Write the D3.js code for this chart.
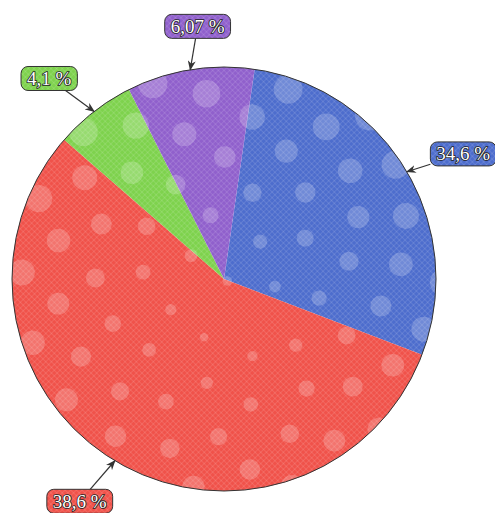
<!DOCTYPE html>
<html>
<head>
<meta charset="utf-8">
<script src="https://cdn.jsdelivr.net/npm/d3@7"></script>
<style>
  html, body { margin: 0; padding: 0; background: #fff; }
  svg { display: block; }
</style>
</head>
<body>
<svg></svg>
<script>
// slice sizes (share of the full circle, %)
var shares = [28.5, 55.6, 6.2, 9.7];
// the labels printed next to each slice
var labels = ["34,6 %", "38,6 %", "4,1 %", "6,07 %"];
var colors = ["#4d6dcd", "#f0524a", "#7ed24d", "#9060cc"];

var width = 495, height = 513;
var cx = 224, cy = 279, radius = 212;
var startDeg = 8.3;

// label placement: angle shift from slice middle (deg) and distance from centre
var labelShift = [2.8, 2, -3.3, 3.2];
var labelDist = [270, 265, 266, 254];

var svg = d3.select("svg")
    .attr("width", width)
    .attr("height", height);

var defs = svg.append("defs");

// cross-hatch texture, one per colour
colors.forEach(function(c, i) {
  var p = defs.append("pattern")
      .attr("id", "tex" + i)
      .attr("patternUnits", "userSpaceOnUse")
      .attr("width", 4).attr("height", 4)
      .attr("patternTransform", "rotate(45)");
  p.append("rect").attr("width", 4).attr("height", 4).attr("fill", c);
  p.append("line").attr("x1", 0).attr("y1", 0).attr("x2", 4).attr("y2", 0)
      .attr("stroke", "#fff").attr("stroke-opacity", 0.22).attr("stroke-width", 1);
  p.append("line").attr("x1", 0).attr("y1", 0).attr("x2", 0).attr("y2", 4)
      .attr("stroke", "#fff").attr("stroke-opacity", 0.22).attr("stroke-width", 1);
});

defs.append("clipPath").attr("id", "pieclip")
  .append("circle").attr("cx", cx).attr("cy", cy).attr("r", radius);

defs.append("marker")
    .attr("id", "arrow")
    .attr("viewBox", "0 0 10 8")
    .attr("refX", 9).attr("refY", 4)
    .attr("markerWidth", 10).attr("markerHeight", 8)
    .attr("markerUnits", "userSpaceOnUse")
    .attr("orient", "auto")
  .append("path")
    .attr("d", "M0,0 L10,4 L0,8 L3,4 Z")
    .attr("fill", "#333");

var pie = d3.pie()
    .sort(null)
    .value(function(d) { return d; })
    .startAngle(startDeg * Math.PI / 180)
    .endAngle(startDeg * Math.PI / 180 + 2 * Math.PI);

var arcs = pie(shares);

var arc = d3.arc().innerRadius(0).outerRadius(radius);

var g = svg.append("g").attr("transform", "translate(" + cx + "," + cy + ")");

g.selectAll("path.slice")
  .data(arcs)
  .join("path")
    .attr("class", "slice")
    .attr("d", arc)
    .attr("fill", function(d, i) { return "url(#tex" + i + ")"; });

// decorative bubbles (sunflower arrangement), clipped to the disc
var bub = svg.append("g").attr("clip-path", "url(#pieclip)");
var golden = Math.PI * (3 - Math.sqrt(5));
var bx = cx, by = cy + 40;
for (var i = 1; i < 90; i++) {
  var rr = 27 * Math.sqrt(i);
  var a = i * golden;
  bub.append("circle")
      .attr("cx", bx + rr * Math.cos(a))
      .attr("cy", by + rr * Math.sin(a))
      .attr("r", 3 + 11 * Math.min(rr / 230, 1.1))
      .attr("fill", "#fff")
      .attr("fill-opacity", 0.2);
}

svg.append("circle")
    .attr("cx", cx).attr("cy", cy).attr("r", radius)
    .attr("fill", "none")
    .attr("stroke", "#333")
    .attr("stroke-width", 1);

// labels with arrows
var boxH = 24, pad = 6;
var lab = svg.append("g");

arcs.forEach(function(d, i) {
  var mid = (d.startAngle + d.endAngle) / 2;
  var la = mid + labelShift[i] * Math.PI / 180;
  var lx = cx + labelDist[i] * Math.sin(la);
  var ly = cy - labelDist[i] * Math.cos(la);
  var tx = cx + radius * Math.sin(mid);
  var ty = cy - radius * Math.cos(mid);

  var t = lab.append("text")
      .attr("x", lx).attr("y", ly)
      .attr("text-anchor", "middle")
      .attr("dominant-baseline", "central")
      .attr("font-family", "'Liberation Serif', 'DejaVu Serif', serif")
      .attr("font-size", 19)
      .attr("fill", "#fff")
      .attr("stroke", "#222")
      .attr("stroke-width", 1.6)
      .attr("paint-order", "stroke")
      .text(labels[i]);
  var bw = t.node().getComputedTextLength() + 2 * pad;

  // start the arrow where the line to the tip leaves the box
  var dx = tx - lx, dy = ty - ly;
  var s = Math.min(Math.abs((bw / 2) / dx), Math.abs((boxH / 2) / dy));
  lab.insert("line", "text")
      .attr("x1", lx + dx * s).attr("y1", ly + dy * s)
      .attr("x2", tx).attr("y2", ty)
      .attr("stroke", "#333").attr("stroke-width", 1.2)
      .attr("marker-end", "url(#arrow)");

  lab.insert("rect", "text")
      .attr("x", lx - bw / 2).attr("y", ly - boxH / 2)
      .attr("width", bw).attr("height", boxH)
      .attr("rx", 7)
      .attr("fill", "url(#tex" + i + ")")
      .attr("stroke", "#333").attr("stroke-width", 1);
});
</script>
</body>
</html>
